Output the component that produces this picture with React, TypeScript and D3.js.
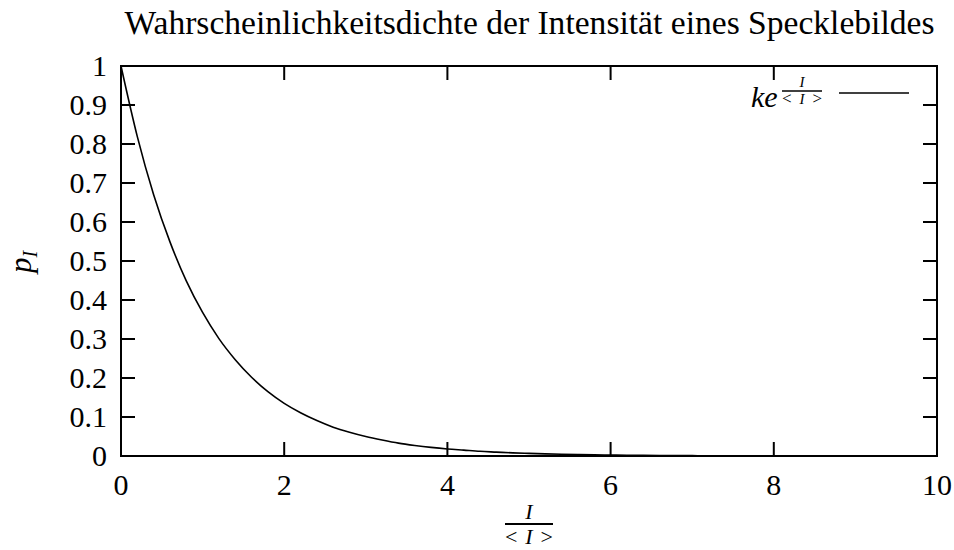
import React from "react";
import * as d3 from "d3";

// Sampled probability density of speckle intensity, I/<I> against p_I
const intensity = [
  0, 0.2, 0.4, 0.6, 0.8, 1.0, 1.2, 1.4, 1.6, 1.8, 2.0, 2.2, 2.4, 2.6, 2.8, 3.0,
  3.2, 3.4, 3.6, 3.8, 4.0, 4.2, 4.4, 4.6, 4.8, 5.0, 5.2, 5.4, 5.6, 5.8, 6.0,
  6.2, 6.4, 6.6, 6.8, 7.0, 7.2, 7.4, 7.6, 7.8, 8.0, 8.2, 8.4, 8.6, 8.8, 9.0,
  9.2, 9.4, 9.6, 9.8, 10.0,
];
const density = [
  1.0, 0.819, 0.67, 0.549, 0.449, 0.368, 0.301, 0.247, 0.202, 0.165, 0.135,
  0.111, 0.091, 0.074, 0.061, 0.05, 0.041, 0.033, 0.027, 0.022, 0.018, 0.015,
  0.012, 0.01, 0.008, 0.0067, 0.0055, 0.0045, 0.0037, 0.003, 0.0025, 0.002,
  0.0017, 0.0014, 0.0011, 0.0009, 0.0007, 0.0006, 0.0005, 0.0004, 0.0003,
  0.0003, 0.0002, 0.0002, 0.0002, 0.0001, 0.0001, 0.0001, 0.0001, 0.0001,
  0.00005,
];
const xTicks = [0, 2, 4, 6, 8, 10];
const yTicks = [0, 0.1, 0.2, 0.3, 0.4, 0.5, 0.6, 0.7, 0.8, 0.9, 1];

const W = 954;
const H = 550;
const M = { left: 121, right: 937, top: 66, bottom: 456 };
const FONT = "Times New Roman, Tinos, DejaVu Serif";
const TICK = 14;

// A stacked fraction "I over <I>" with its bar from x0 to x1
function Fraction({ x0, x1, barY, size, relSize, topBase, botBase }: {
  x0: number; x1: number; barY: number; size: number; relSize: number; topBase: number; botBase: number;
}) {
  const cx = (x0 + x1) / 2;
  return (
    <g>
      <text x={cx} y={topBase} textAnchor="middle" fontSize={size} fontStyle="italic">I</text>
      <line x1={x0} x2={x1} y1={barY} y2={barY} stroke="#000" strokeWidth={size > 18 ? 1.8 : 1.4} />
      <text x={x0} y={botBase} textAnchor="start" fontSize={relSize}>&lt;</text>
      <text x={cx} y={botBase} textAnchor="middle" fontSize={size} fontStyle="italic">I</text>
      <text x={x1} y={botBase} textAnchor="end" fontSize={relSize}>&gt;</text>
    </g>
  );
}

export default function App() {
  const x = d3.scaleLinear().domain([0, 10]).range([M.left, M.right]);
  const y = d3.scaleLinear().domain([0, 1]).range([M.bottom, M.top]);
  const points: [number, number][] = intensity.map((v, i) => [v, density[i]]);
  const line = d3
    .line<[number, number]>()
    .x((d) => x(d[0]))
    .y((d) => y(d[1]))
    .curve(d3.curveMonotoneX);

  return (
    <svg
      width={W}
      height={H}
      viewBox={`0 0 ${W} ${H}`}
      style={{ position: "absolute", left: 0, top: 0, background: "#fff" }}
      fontFamily={FONT}
    >
      <rect x={0} y={0} width={W} height={H} fill="#fff" />
      {/* title */}
      <text
        x={529.5}
        y={34}
        textAnchor="middle"
        fontSize={33}
        textLength={810}
        lengthAdjust="spacingAndGlyphs"
      >
        Wahrscheinlichkeitsdichte der Intensität eines Specklebildes
      </text>

      {/* y ticks, both sides */}
      {yTicks.map((t) => (
        <g key={"y" + t}>
          {t > 0 && t < 1 && (
            <>
              <line x1={M.left} x2={M.left + TICK} y1={y(t)} y2={y(t)} stroke="#000" strokeWidth={2} />
              <line x1={M.right} x2={M.right - TICK} y1={y(t)} y2={y(t)} stroke="#000" strokeWidth={2} />
            </>
          )}
          <text x={107} y={y(t) + 10} textAnchor="end" fontSize={30}>
            {t === 0 || t === 1 ? String(t) : t.toFixed(1)}
          </text>
        </g>
      ))}

      {/* x ticks, both sides */}
      {xTicks.map((t) => (
        <g key={"x" + t}>
          {t > 0 && t < 10 && (
            <>
              <line x1={x(t)} x2={x(t)} y1={M.bottom} y2={M.bottom - TICK} stroke="#000" strokeWidth={2} />
              <line x1={x(t)} x2={x(t)} y1={M.top} y2={M.top + TICK} stroke="#000" strokeWidth={2} />
            </>
          )}
          <text x={x(t)} y={495} textAnchor="middle" fontSize={30}>
            {t}
          </text>
        </g>
      ))}

      {/* curve */}
      <path d={line(points) || ""} fill="none" stroke="#000" strokeWidth={1.6} />

      {/* frame */}
      <rect
        x={M.left}
        y={M.top}
        width={M.right - M.left}
        height={M.bottom - M.top}
        fill="none"
        stroke="#000"
        strokeWidth={2}
      />

      {/* x axis label: I / <I> */}
      <Fraction x0={505} x1={553} barY={524} size={22} relSize={22} topBase={519} botBase={544} />

      {/* y axis label: p_I */}
      <g transform="translate(31,262) rotate(-90)">
        <text x={0} y={0} textAnchor="middle" fontSize={31} fontStyle="italic">
          p<tspan fontSize={20} dy={6}>I</tspan>
        </text>
      </g>

      {/* legend */}
      <text x={751} y={107} fontSize={30} fontStyle="italic">ke</text>
      <Fraction x0={782} x1={822} barY={91} size={15} relSize={17} topBase={87} botBase={104} />
      <line x1={839} x2={909} y1={93} y2={93} stroke="#000" strokeWidth={1.6} />
    </svg>
  );
}
